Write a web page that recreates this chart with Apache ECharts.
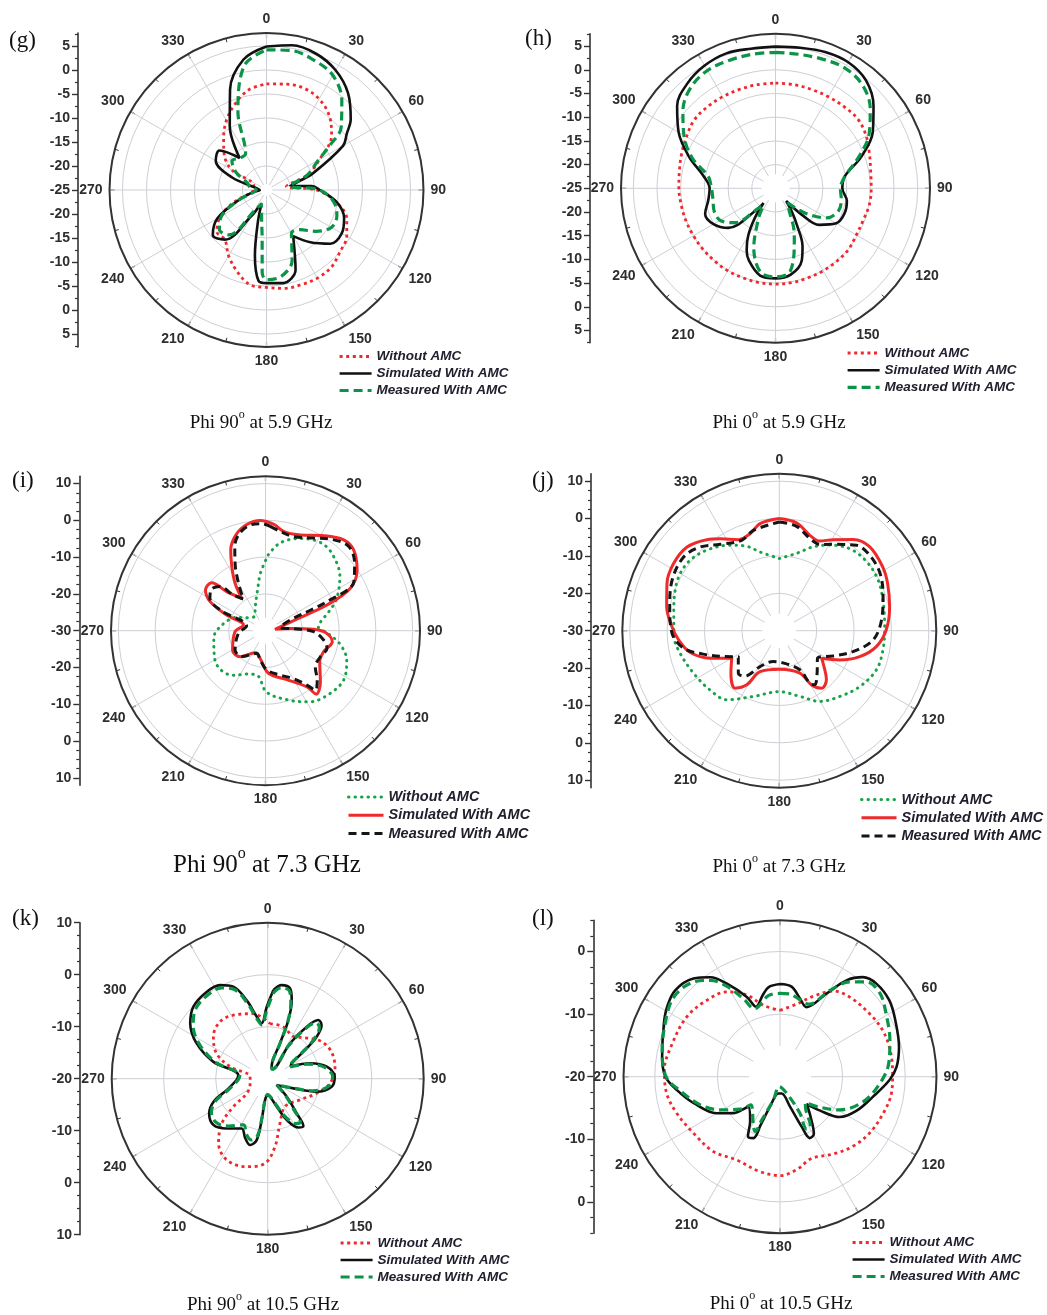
<!DOCTYPE html>
<html>
<head>
<meta charset="utf-8">
<script src="https://cdn.jsdelivr.net/npm/echarts@6/dist/echarts.min.js"></script>
<style>
  html, body { margin: 0; padding: 0; background: #fff; }
  #chart { width: 1047px; height: 1315px; }
</style>
</head>
<body>
<div id="chart"></div>
<script>
// ---------- Radiation pattern data (gain in dB versus angle in degrees) ----------

// (g) Phi 90 deg, 5.9 GHz
const gWithoutAng = [0,10,20,30,40,50,60,70,80,90,100,110,120,130,140,150,160,170,180,190,200,210,220,230,240,250,260,270,280,290,300,310,320,330,340,350,360];
const gWithoutDb  = [-2.9,-2.6,-2.4,-3.1,-4.7,-7.3,-12.2,-16,-20.8,-14.6,-10.2,-7.2,-5.7,-5,-4,-3.8,-4,-4.2,-4.7,-5,-7,-9.2,-11.5,-11.5,-13.9,-18,-21.9,-22.2,-21.9,-22.2,-16.7,-13.5,-11.1,-8.3,-5.9,-3.8,-2.9];
const gSimAng = [0,10,20,30,40,50,55,60,70,75,80,85,90,100,110,120,130,140,150,160,170,180,185,190,195,200,205,210,220,230,240,250,260,270,280,290,300,310,320,330,340,350,360];
const gSimDb  = [4.9,5.6,5.2,3.8,1.4,-2.1,-4.6,-6.6,-14.6,-18,-20,-15.5,-13.9,-10.1,-7.8,-6.9,-7.6,-10.8,-13.9,-7.3,-5.3,-5.6,-6,-11.1,-18,-22,-21,-18.8,-11.5,-10.4,-13.2,-18.8,-22,-23.6,-23,-17.4,-12.8,-12.2,-16.3,-9.7,-2.8,2.6,4.9];
const gMeasAng = [0,10,20,30,40,50,55,60,70,80,90,100,110,120,130,140,150,160,170,180,183,185,190,200,210,220,230,240,250,260,270,280,290,300,310,320,330,340,350,360];
const gMeasDb  = [4.2,4.5,3.8,2.6,-0.6,-4.7,-9,-12.5,-16,-20,-13.9,-10.8,-9.4,-9.4,-11.6,-14.2,-14.6,-9.4,-6.8,-6.3,-7.8,-14.6,-19.1,-21.9,-20.1,-12.8,-12.2,-14.2,-18.8,-22.2,-22.9,-21.5,-20.8,-17.7,-15.6,-16.3,-16.3,-7.6,1.4,4.2];

// (h) Phi 0 deg, 5.9 GHz
const hWithoutAng = [0,10,20,30,40,50,60,70,80,90,100,110,120,130,140,150,160,170,180,190,200,210,220,230,240,250,260,270,280,290,300,310,320,330,340,350,360];
const hWithoutDb  = [-2.8,-2.8,-2.8,-2.7,-2.5,-2.3,-2.9,-3.9,-4.6,-4.8,-4.9,-5.3,-5.3,-4.9,-4.9,-4.9,-4.9,-4.8,-4.8,-4.8,-4.9,-4.9,-5,-5,-5,-4.9,-4.8,-4.6,-4.4,-3.9,-3.3,-2.6,-2.6,-2.7,-2.8,-2.8,-2.8];
const hSimAng = [0,10,20,30,40,50,60,70,80,90,100,110,120,130,135,140,145,150,155,160,170,180,190,200,205,210,215,219,222,230,240,250,260,270,280,290,300,310,320,330,340,350,360];
const hSimDb  = [4.9,5.1,5.6,5.7,4.7,2.0,-1.3,-5.8,-10.1,-10.9,-9.7,-9.5,-10.2,-13,-17,-21.5,-19,-15.8,-11.5,-8.8,-6.5,-6,-6.3,-8.7,-10.6,-13.5,-17.5,-21,-18.5,-12,-9.9,-9.2,-10.6,-11.1,-9.5,-5.6,-1.4,2.1,3.9,4.9,5.3,4.9,4.9];
const hMeasAng = [0,10,20,30,40,50,60,70,80,90,100,110,120,130,140,150,155,160,170,180,190,200,210,215,220,230,240,250,260,270,280,290,300,310,320,330,340,350,360];
const hMeasDb  = [3.7,3.7,4.0,4.3,3.5,1.1,-2.2,-6.5,-10.1,-11.3,-10.9,-10.9,-12.5,-16.9,-21,-19,-16,-13.4,-7.2,-6.3,-7,-11.6,-18,-20.5,-19.7,-13.7,-11.5,-11.2,-11.6,-11.5,-10.6,-6.3,-2.7,0.5,2.8,3.7,3.7,3.7,3.7];

// (i) Phi 90 deg, 7.3 GHz
const iWithoutAng = [2,9.5,20.6,31,40,54,66,74,80,86,92,100,110,122,134,148,161,179,190,203,216,230,243,262,277,295,310,325,337,349,355,362];
const iWithoutDb  = [-9.4,-5.8,-3.2,-1.8,-2.2,-5,-8.9,-12.3,-14.6,-15.6,-13.3,-9.5,-6.5,-4.9,-5.5,-7.2,-10,-13.3,-17.6,-17.2,-15,-13.8,-14.4,-15.8,-18,-21.4,-24.5,-25,-22.9,-18.7,-14.3,-9.4];
const iSimAng = [5.2,11.3,19.9,31.5,40.7,47.5,56.4,63.4,67.3,69.6,82,84.6,88.4,92.5,99.4,109.9,119.9,133,141.3,143.6,156.3,176,190.9,205,224.3,239.4,268,284.4,292,297.7,304.1,311.8,315.2,323.8,327.4,332.3,336.7,343,350,357.2,365.2];
const iSimDb  = [-1.1,-2.7,-2.3,0.3,2.6,2.5,-0.1,-4.2,-11.9,-20.9,-27.4,-23.3,-16.9,-13.3,-11.6,-13.2,-13,-9.6,-7.9,-11,-15.5,-18.4,-22.3,-23.4,-20.1,-19.6,-21.7,-23.8,-18.6,-13,-10.3,-10.4,-15,-19.1,-14.6,-10.3,-6.1,-2.7,-0.7,0,-1.1];
const iMeasAng = [2.6,8.4,16.6,27.5,36.9,44.7,52.8,60.9,64.7,66.6,77.2,86,91.2,99.1,106,115.4,125.9,133.9,140,142.7,149.6,161.7,178,190.3,201,222.3,237.5,264.4,284,294.5,300.3,307.6,314,318,325,330.3,335.8,340,345.4,352.6,358,362.6];
const iMeasDb  = [-1.6,-2.7,-3.3,-1.6,0.9,2.2,0.4,-2.5,-11.5,-22.6,-25.9,-22.4,-16.9,-14,-12.6,-13.5,-13.3,-10.5,-8.9,-11.4,-14.9,-17.3,-19.3,-21.9,-23.4,-20.5,-20.2,-22.6,-24.7,-16.5,-12.5,-11.5,-12.7,-16.9,-19.5,-15.2,-9.8,-5.6,-2.5,-0.9,-0.9,-1.6];

// (j) Phi 0 deg, 7.3 GHz
const jWithoutAng = [0,12.6,22,30.6,41.2,52.4,62.9,73.6,87.8,100.5,112,124.8,137.4,150.2,162.6,180,201.5,217.2,229.4,243.6,257.1,266.7,279.3,291.3,300,308.3,318,330.1,338.9,346.2,360];
const jWithoutDb  = [-10.7,-8.8,-5.8,-3.4,-1,-0.2,-0.3,-1.1,-1.8,-1.8,-2,-3.8,-6.1,-8.2,-11.6,-13.7,-11.1,-6.8,-5.6,-4.4,-2.8,-1.8,-1.4,-0.1,0.6,0.4,-1,-3.6,-5.8,-8.3,-10.7];
const jSimAng = [0,9.1,17.8,24.3,30.6,39,47.2,58.4,66.5,77.8,89.6,99.3,107.9,115.8,123.2,126.6,136.2,143.7,149.2,154.2,180,205.2,211,217.6,228.8,239.9,248.3,256.2,264.7,272,282,292.8,302.4,312.2,321.5,327.3,335.8,343.2,349.8,360];
const jSimDb  = [0,-0.8,-3.2,-3.7,-1.7,1.4,3,2.5,1.6,0.2,-1.4,-3.7,-7.4,-12,-16.5,-15.4,-11.8,-10.9,-13.1,-17.4,-19.7,-17.9,-13.1,-10.6,-12.8,-15.3,-10.1,-5.5,-3,-1.3,0.8,2.6,3.5,3.3,1.1,-0.8,-3.3,-2.9,-0.9,0];
const jMeasAng = [0,9.4,18.4,25.1,33.5,42.1,50.2,60.5,71.9,84,95.7,105.8,115.1,125.8,138.3,146.7,149.8,152.3,167.6,191,208.2,217.1,223.9,237.6,245.1,253.3,259.6,268.6,282.3,295.2,307.6,316.6,325.6,337.4,345.5,360];
const jMeasDb  = [-0.9,-1.7,-4,-4.5,-2.3,0.8,1.5,1,-0.8,-2.5,-4.8,-9.5,-14.1,-17.4,-14.8,-12.7,-13.7,-18.2,-20.9,-21.6,-19.1,-14.8,-14.2,-17,-13.6,-8.4,-4,-1.3,0,1.7,2.3,0.8,-2,-3.8,-2.3,-0.9];

// (k) Phi 90 deg, 10.5 GHz
const kWithoutAng = [2.4,16.8,31.4,42.7,54.7,67.1,81.3,94.3,106.7,123.4,148.2,164.6,173.8,181.8,193.4,206.7,217.3,225.8,230.8,235,255,276.5,287.7,296.4,307.7,320.1,331.7,347.5,362.4];
const kWithoutDb  = [-9.4,-9.6,-10.5,-9.3,-7.5,-6.7,-6.9,-8,-10.2,-12.6,-13.7,-11.1,-6.9,-3.7,-2.6,-2.5,-4.4,-7.7,-11.5,-15.1,-16.5,-16.6,-12.4,-9,-6.8,-5.7,-6.1,-7.2,-9.4];
const kAmcAng = [3.7,8.5,13.9,17,19.4,19.2,18.4,25,32.3,36.9,40.8,45.2,49.4,52.1,57.4,62,70.1,78.5,88.3,97.1,104.9,110.6,125,133.5,140.1,143,147.8,155.3,162.2,172.6,180,187,188.3,190.2,194.9,200.8,207.6,219.5,229.5,239.3,247,254.5,267.5,277,287.4,296.5,305.5,314.1,325,333,339.5,345,350,353.8,359.2,363.7];
const kSimDb  = [-2.9,-1.8,-2.1,-4.2,-8,-12.8,-17.6,-18,-12,-7.5,-5.1,-5.4,-7.6,-10.5,-14.5,-15,-11.3,-8.4,-7.1,-7.6,-10.3,-14.7,-17.9,-14.9,-11.3,-8.6,-8.9,-11.3,-14.4,-16.5,-16.8,-15.9,-12,-8,-6.8,-7.8,-9.2,-7.6,-6.3,-6.9,-8.7,-11.8,-14,-14.3,-9,-4.7,-1.7,-0.1,0.4,0.2,-1.1,-4.4,-7.9,-9.3,-6.2,-2.9];
const kMeasDb = [-3.5,-2.3,-2.6,-4.8,-8.5,-13,-17.6,-18,-12.5,-8,-5.8,-6,-8.2,-11,-14.8,-15.3,-11.8,-8.9,-7.5,-8.2,-11,-15,-17.9,-15.3,-12,-9.6,-9.8,-12,-14.8,-16.6,-17,-16.2,-12.6,-8.8,-7.8,-8.5,-10,-8.2,-7,-7.4,-9.2,-12.2,-14.3,-14.6,-9.6,-5.4,-2.4,-0.7,-0.2,-0.4,-1.7,-5,-8.4,-9.6,-6.8,-3.5];

// (l) Phi 0 deg, 10.5 GHz
const lWithoutAng = [0,12.9,22.5,31.8,41.2,54.9,65.7,76.5,88.3,98.5,109.5,122.2,133.7,145.4,158.8,169.9,180,191.9,207.5,221.6,236.8,250.5,261.6,273.3,287.1,302.7,316.3,327.9,337.8,346.9,360];
const lWithoutDb  = [-9.4,-8.1,-6.1,-3.9,-3.1,-2.5,-2,-1.9,-2,-2,-2.5,-3.1,-3.9,-5,-6,-4.9,-4.2,-4.5,-5,-4,-3.5,-2.5,-1.7,-1.5,-2,-2.3,-3.1,-4,-5.9,-8.3,-9.4];
const lSimAng = [0,7.3,14.3,20.9,29.2,34.6,39.8,46,55.1,64,75.9,85.1,91.7,102.1,113.9,124.1,130.4,135.7,142.5,149.3,154.1,156.6,161.6,174.3,185.7,198.4,201.8,203.4,208.3,213.7,226.5,231.8,240,252.9,262.6,270,279.6,294.6,301.7,309.5,318.6,325,330.3,337.4,341.1,348,352.6,360];
const lSimDb  = [-5.2,-5.5,-7.1,-8.1,-4.8,-1.3,0.7,1.4,1.3,0.5,-0.4,-1.3,-2.5,-4.8,-6.6,-8.5,-11.7,-13.9,-12,-9.4,-9.1,-11.3,-15,-17.3,-17.3,-15,-11.7,-9.3,-9.2,-11.4,-13,-10.6,-8.3,-5.6,-3.4,-1.7,-0.9,0.4,1.2,1.7,0.9,-0.6,-2.9,-6.2,-8.2,-6.7,-5.6,-5.2];
const lMeasAng = [0,6.9,14.5,22,30,36.4,42.4,50.2,59.3,71.6,83,93.8,106.7,119.1,127.5,135.7,142,148.5,153.1,151.4,158,184,195.9,202.9,204.4,208.1,226,230.8,240.9,250.5,262,270,282.7,297.8,306.9,316.2,324.1,329.5,334.9,339.4,351.9,360];
const lMeasDb  = [-6.7,-6.7,-7.3,-7.5,-4.1,-1.2,0.5,0.8,-0.3,-1.5,-2.5,-4,-6.1,-9.1,-12,-14.2,-13.3,-10.7,-10.6,-13.4,-17.1,-18.4,-16.1,-12.5,-10.4,-11,-13.5,-11.8,-9.1,-6.5,-3.9,-1.8,-0.7,0.5,1.2,0.7,-1,-3.2,-6.3,-8.4,-6.9,-6.7];

// Series labels
const SERIES_NAMES = ['Without AMC', 'Simulated With AMC', 'Measured With AMC'];

// ---------- Line styles ----------
const STYLE_A = [
  { color: '#f0282d', width: 2.8, type: [3, 3.6], cap: 'butt' },   // dotted red
  { color: '#111111', width: 2.6, type: 'solid', cap: 'butt' },    // solid black
  { color: '#0b9447', width: 3.2, type: [9, 5], cap: 'butt' }      // dashed green
];
const STYLE_B = [
  { color: '#18a34a', width: 3, type: [0.5, 6], cap: 'round' },    // dotted green
  { color: '#ee2a2a', width: 3, type: 'solid', cap: 'butt' },      // solid red
  { color: '#151515', width: 3, type: [8, 5], cap: 'butt' }        // dashed black
];

// ---------- Panel layout ----------
const PANELS = [
  { id: 'g', cx: 266.5, cy: 190,    R: 157,   min: -25, max: 7.7, step: 5,  axisX: 78,    hole: 6,
    styles: STYLE_A, lines: [[gWithoutAng, gWithoutDb], [gSimAng, gSimDb], [gMeasAng, gMeasDb]],
    letter: '(g)', letterX: 9,   letterY: 41,   caption: 'Phi 90{s|o} at 5.9 GHz', capX: 261, capY: 423, capSize: 19,
    legX: 338, legY: 348.5, legW: 32, legGap: 1, legFont: 13.5 },
  { id: 'h', cx: 775.5, cy: 188.3,  R: 154.5, min: -25, max: 7.6, step: 5,  axisX: 590,   hole: 14,
    styles: STYLE_A, lines: [[hWithoutAng, hWithoutDb], [hSimAng, hSimDb], [hMeasAng, hMeasDb]],
    letter: '(h)', letterX: 525, letterY: 39,   caption: 'Phi 0{s|o} at 5.9 GHz',  capX: 779, capY: 423, capSize: 19,
    legX: 846, legY: 345, legW: 32, legGap: 1.2, legFont: 13.5 },
  { id: 'i', cx: 265.5, cy: 630.7,  R: 154.5, min: -30, max: 12,  step: 10, axisX: 79.3,  hole: 13,
    styles: STYLE_B, lines: [[iWithoutAng, iWithoutDb], [iSimAng, iSimDb], [iMeasAng, iMeasDb]],
    letter: '(i)', letterX: 12,  letterY: 481,  caption: 'Phi 90{s|o} at 7.3 GHz', capX: 267, capY: 865, capSize: 25,
    legX: 347, legY: 789, legW: 35, legGap: 2.3, legFont: 14.5 },
  { id: 'j', cx: 779.3, cy: 630.7,  R: 157,   min: -30, max: 12,  step: 10, axisX: 591,   hole: 17,
    styles: STYLE_B, lines: [[jWithoutAng, jWithoutDb], [jSimAng, jSimDb], [jMeasAng, jMeasDb]],
    letter: '(j)', letterX: 532, letterY: 481,  caption: 'Phi 0{s|o} at 7.3 GHz',  capX: 779, capY: 867, capSize: 19,
    legX: 860, legY: 791.5, legW: 35, legGap: 2.3, legFont: 14.5 },
  { id: 'k', cx: 267.7, cy: 1078.7, R: 156,   min: -20, max: 10,  step: 10, axisX: 80,    hole: 20,
    styles: STYLE_A, lines: [[kWithoutAng, kWithoutDb], [kAmcAng, kSimDb], [kAmcAng, kMeasDb]],
    letter: '(k)', letterX: 12,  letterY: 919,  caption: 'Phi 90{s|o} at 10.5 GHz', capX: 263, capY: 1305, capSize: 19,
    legX: 339, legY: 1235, legW: 32, legGap: 1, legFont: 13.5 },
  { id: 'l', cx: 780,   cy: 1076.7, R: 156.5, min: -20, max: 5,   step: 10, axisX: 593.3, hole: 31,
    styles: STYLE_A, lines: [[lWithoutAng, lWithoutDb], [lSimAng, lSimDb], [lMeasAng, lMeasDb]],
    letter: '(l)', letterX: 532, letterY: 919,  caption: 'Phi 0{s|o} at 10.5 GHz',  capX: 781, capY: 1304, capSize: 19,
    legX: 851, legY: 1234.5, legW: 32, legGap: 1, legFont: 13.5 }
];

const SANS = '"Liberation Sans", Arial, sans-serif';
const SERIF = '"Liberation Serif", "Times New Roman", serif';
const INK = '#2e2e2e';
const GRID_GRAY = '#cdcfd6';

const option = {
  backgroundColor: '#ffffff',
  animation: false,
  polar: [], angleAxis: [], radiusAxis: [],
  grid: [], xAxis: [], yAxis: [],
  legend: [], series: [],
  graphic: { elements: [] }
};

PANELS.forEach((p, idx) => {
  // Polar frame
  option.polar.push({ center: [p.cx, p.cy], radius: p.R });
  option.angleAxis.push({
    polarIndex: idx, type: 'value', min: 0, max: 360, interval: 30,
    startAngle: 90, clockwise: true,
    axisLine: { show: true, lineStyle: { color: '#333', width: 2 } },
    axisTick: { show: true, inside: true, length: 5, lineStyle: { color: '#333', width: 1.2 } },
    minorTick: { show: true, splitNumber: 2, length: 4, lineStyle: { color: '#333', width: 1 } },
    axisLabel: { margin: 7, color: INK, fontSize: 14, fontWeight: 'bold', fontFamily: SANS },
    splitLine: { show: true, lineStyle: { color: GRID_GRAY, width: 1 } }
  });
  option.radiusAxis.push({
    polarIndex: idx, type: 'value', min: p.min, max: p.max, interval: p.step,
    axisLine: { show: false }, axisTick: { show: false }, axisLabel: { show: false },
    splitLine: { show: true, lineStyle: { color: GRID_GRAY, width: 1 } }
  });

  // Mirrored radial scale on the left of each plot
  const span = p.max - p.min;
  const majors = [], minors = [];
  for (let v = -Math.floor(span / p.step) * p.step; v <= span + 1e-6; v += p.step) majors.push(v);
  for (let v = -Math.floor(span / 2.5) * 2.5; v <= span + 1e-6; v += 2.5) {
    if (Math.abs(v / p.step - Math.round(v / p.step)) > 1e-6) minors.push(v);
  }
  option.grid.push({ left: p.axisX, top: p.cy - p.R, width: 10, height: 2 * p.R, show: false });
  option.xAxis.push({ gridIndex: idx, type: 'value', show: false, min: 0, max: 1 });
  option.yAxis.push({
    gridIndex: idx, type: 'value', position: 'left', min: -span, max: span,
    axisLine: { show: true, onZero: false, lineStyle: { color: '#333', width: 1.6 } },
    axisTick: { show: true, length: 6, customValues: majors, lineStyle: { color: '#333', width: 1.4 } },
    axisLabel: {
      customValues: majors, margin: 8, color: INK, fontSize: 14, fontWeight: 'bold', fontFamily: SANS,
      formatter: v => String(Math.round(p.min + Math.abs(v)))
    },
    splitLine: { show: false }
  });
  option.yAxis.push({
    gridIndex: idx, type: 'value', position: 'left', min: -span, max: span,
    axisLine: { show: false },
    axisTick: { show: true, length: 3, customValues: minors, lineStyle: { color: '#333', width: 1.2 } },
    axisLabel: { show: false }, splitLine: { show: false }
  });

  // Pattern curves
  const names = SERIES_NAMES.map(n => p.id + ':' + n);
  p.lines.forEach((ln, s) => {
    const st = p.styles[s];
    option.series.push({
      type: 'line', coordinateSystem: 'polar', polarIndex: idx,
      name: names[s],
      data: ln[0].map((a, k) => [ln[1][k], a]),
      symbol: 'none', showSymbol: false, smooth: 0.35, clip: false, z: 5,
      lineStyle: { color: st.color, width: st.width, type: st.type, cap: st.cap },
      itemStyle: { color: st.color }
    });
  });

  option.legend.push({
    orient: 'vertical', left: p.legX, top: p.legY, padding: 0,
    itemWidth: p.legW, itemHeight: 12, itemGap: p.legGap,
    data: names, selectedMode: false,
    formatter: n => n.split(':')[1],
    itemStyle: { opacity: 0 },
    lineStyle: { width: 'inherit' },
    textStyle: { fontFamily: SANS, fontSize: p.legFont, fontStyle: 'italic', fontWeight: 'bold', color: '#20202e', lineHeight: 16 }
  });

  // Clear patch around the pole where the spokes stop
  option.graphic.elements.push({
    type: 'circle', silent: true, z: 1,
    shape: { cx: p.cx, cy: p.cy, r: p.hole },
    style: { fill: '#ffffff' }
  });
  // Panel letter
  option.graphic.elements.push({
    type: 'text', silent: true, z: 6, x: p.letterX, y: p.letterY,
    style: { text: p.letter, fill: '#111', font: '23px ' + SERIF, verticalAlign: 'middle', align: 'left' }
  });
  // Caption
  option.graphic.elements.push({
    type: 'text', silent: true, z: 6, x: p.capX, y: p.capY,
    style: {
      text: '{m|' + p.caption.replace('{s|o}', '}{s|o}{m|') + '}',
      align: 'center', verticalAlign: 'middle', fill: '#111',
      rich: {
        m: { fontFamily: SERIF, fontSize: p.capSize, lineHeight: Math.round(p.capSize * 1.5), fill: '#111' },
        s: { fontFamily: SERIF, fontSize: Math.round(p.capSize * 0.62), lineHeight: Math.round(p.capSize * 0.62), verticalAlign: 'top', fill: '#111' }
      }
    }
  });
});

const chart = echarts.init(document.getElementById('chart'), null, { renderer: 'canvas' });
chart.setOption(option);
</script>
</body>
</html>
